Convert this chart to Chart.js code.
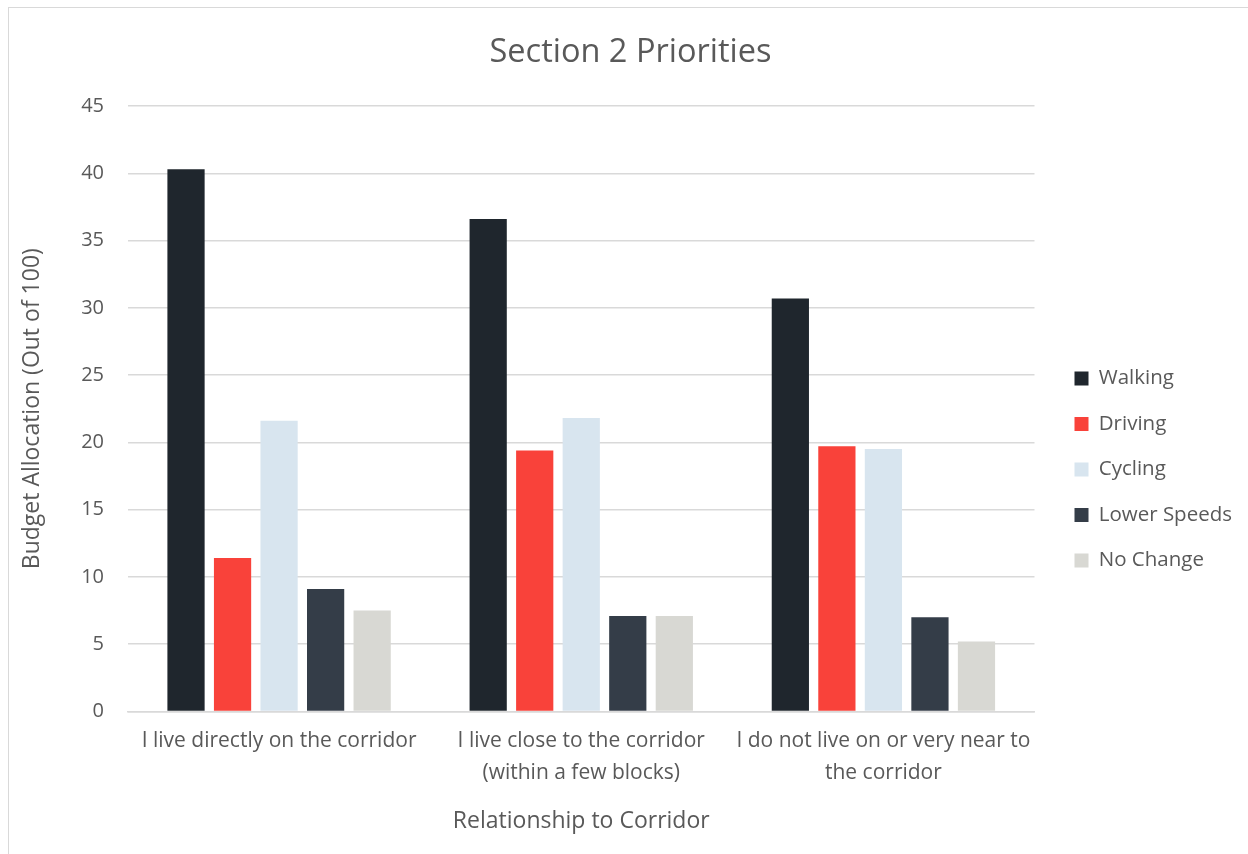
<!DOCTYPE html>
<html>
<head>
<meta charset="utf-8">
<script src="https://cdn.jsdelivr.net/npm/chart.js@4"></script>
<style>
    html, body { margin: 0; padding: 0; background: #ffffff; }
    #frame { position: absolute; left: 8px; top: 7px; width: 1260px; height: 870px; border: 1px solid #d9d9d9; }
    #wrap { position: absolute; left: 0; top: 0; width: 1248px; height: 854px; }
</style>
</head>
<body>
<div id="frame"></div>
<div id="wrap"><canvas id="SensorChart"></canvas></div>
<script>
// categories (x axis groups)
const categories = [
    "I live directly on the corridor",
    ["I live close to the corridor", "(within a few blocks)"],
    ["I do not live on or very near to", "the corridor"]
];

// series values
const walking = [40.3, 36.6, 30.7];
const driving = [11.4, 19.4, 19.7];
const cycling = [21.6, 21.8, 19.5];
const lowerSpeeds = [9.1, 7.1, 7.0];
const noChange = [7.5, 7.1, 5.2];

const seriesNames = ["Walking", "Driving", "Cycling", "Lower Speeds", "No Change"];
const seriesColors = ["#1f262d", "#f9423a", "#d8e5ef", "#343d48", "#d8d8d3"];

// y tick labels
const yTicks = [0, 5, 10, 15, 20, 25, 30, 35, 40, 45];

const textColor = "#595959";
const fontFamily = "'Open Sans', sans-serif";

//leave a gap between plot area and legend, and drop the legend a bit lower
const legendGap = {
    id: "legendGap",
    beforeInit(chart) {
        const fit = chart.legend.fit;
        chart.legend.fit = function () {
            fit.bind(chart.legend)();
            this.width += 15;
        };
    },
    afterLayout(chart) {
        chart.legend.left += 15;
        chart.legend.top += 52;
        chart.legend.bottom += 52;
    }
};

const seriesData = [walking, driving, cycling, lowerSpeeds, noChange];

const chartData = {
    type: "bar",
    data: {
        labels: categories,
        datasets: seriesNames.map((name, i) => ({
            label: name,
            data: seriesData[i],
            backgroundColor: seriesColors[i],
            borderWidth: 0,
            categoryPercentage: 0.77,
            barPercentage: 0.8
        }))
    },
    options: {
        responsive: false,
        animation: false,
        layout: { padding: { left: 19, right: 6, top: 0, bottom: 19 } },
        plugins: {
            title: {
                display: true,
                text: "Section 2 Priorities",
                color: textColor,
                font: { family: fontFamily, size: 32.5, weight: "normal", lineHeight: 1.2 },
                padding: { top: 33, bottom: 34 }
            },
            legend: {
                position: "right",
                labels: {
                    color: textColor,
                    font: { family: fontFamily, size: 20.5 },
                    boxWidth: 14,
                    boxHeight: 14,
                    padding: 25
                }
            },
            tooltip: { enabled: false }
        },
        scales: {
            x: {
                grid: { display: false, drawTicks: false },
                border: { display: true, color: "#d9d9d9", width: 1.5 },
                ticks: {
                    color: textColor,
                    font: { family: fontFamily, size: 21, lineHeight: 1.5 },
                    padding: 14,
                    maxRotation: 0,
                    autoSkip: false
                },
                title: {
                    display: true,
                    text: "Relationship to Corridor",
                    color: textColor,
                    font: { family: fontFamily, size: 23, lineHeight: 1.2 },
                    padding: { top: 5, bottom: 0 }
                }
            },
            y: {
                min: 0,
                max: 45,
                afterBuildTicks: (scale) => { scale.ticks = yTicks.map(v => ({ value: v })); },
                afterFit: (scale) => { scale.width = 109; },
                grid: { color: "#d9d9d9", lineWidth: 1.5, drawTicks: false },
                border: { display: false },
                ticks: {
                    color: textColor,
                    font: { family: fontFamily, size: 20 },
                    padding: 24
                },
                title: {
                    display: true,
                    text: "Budget Allocation (Out of 100)",
                    color: textColor,
                    font: { family: fontFamily, size: 23, lineHeight: 1.2 },
                    padding: { top: 0, bottom: 0 }
                }
            }
        }
    },
    plugins: [legendGap]
};

const canvas = document.getElementById("SensorChart");
canvas.width = 1248;
canvas.height = 854;
new Chart(canvas, chartData);
</script>
</body>
</html>
